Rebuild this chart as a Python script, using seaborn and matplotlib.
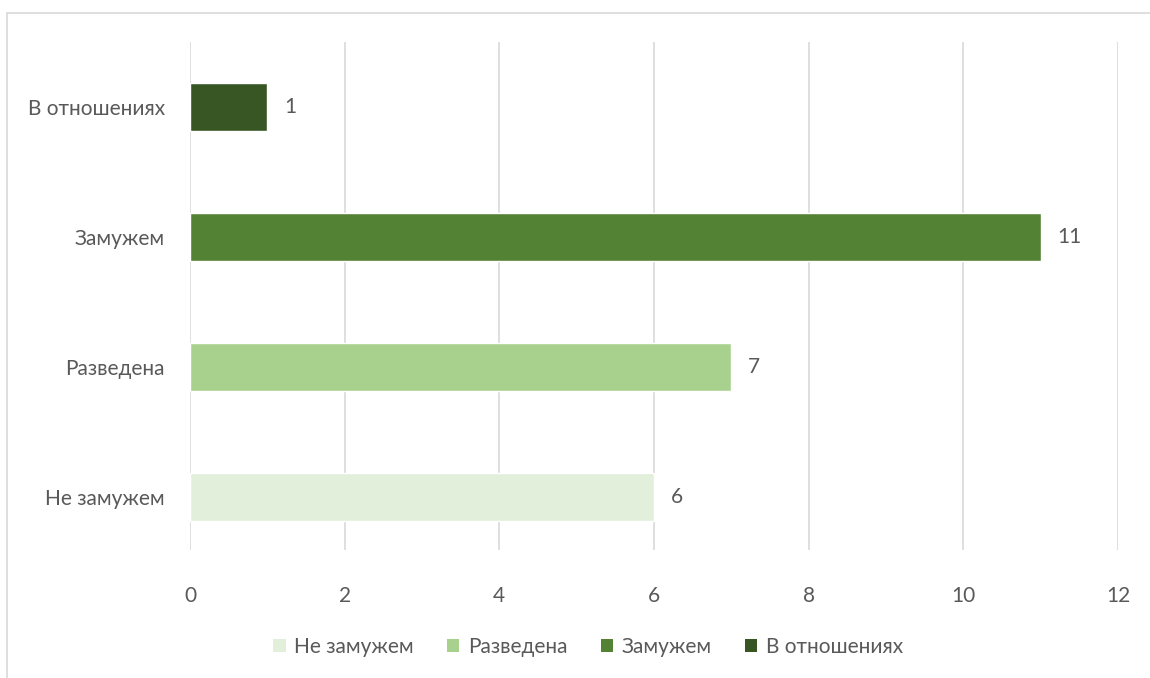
import matplotlib
matplotlib.use('Agg')
import matplotlib.pyplot as plt
import seaborn as sns
import pandas as pd
from matplotlib.patches import Patch
from matplotlib.lines import Line2D

categories = ['В отношениях', 'Замужем', 'Разведена', 'Не замужем']
values = [1, 11, 7, 6]
colors = ['#375623', '#548235', '#A9D18E', '#E2EFDA']
x_ticks = [0, 2, 4, 6, 8, 10, 12]

sns.set_theme(style='white')
plt.rcParams['font.family'] = ['Lato', 'DejaVu Sans']
text_color = '#595959'
fs = 15

df = pd.DataFrame({'status': categories, 'count': values})

fig = plt.figure(figsize=(11.5, 6.78), dpi=100)
ax = fig.add_axes([190 / 1150, 1 - 550 / 678, (1118 - 190) / 1150, (550 - 42) / 678])

sns.barplot(data=df, y='status', x='count', hue='status', order=categories,
            hue_order=categories, palette=colors, dodge=False, width=0.37,
            legend=False, ax=ax, saturation=1)

ax.set_xlim(0, 12)
ax.set_ylim(3.408, -0.5)
ax.set_xticks(x_ticks)
ax.grid(axis='x', color='#D9D9D9', linewidth=1.2)
ax.set_axisbelow(True)
for s in ax.spines.values():
    s.set_visible(False)
ax.tick_params(axis='both', length=0, labelsize=fs, labelcolor=text_color)
ax.tick_params(axis='x', pad=26)
ax.tick_params(axis='y', pad=18)
ax.set_xlabel('')
ax.set_ylabel('')

for i, v in enumerate(values):
    ax.text(v + 0.22, i, str(v), va='center', ha='left', fontsize=fs, color=text_color)

handles = [Patch(facecolor=c, edgecolor='none') for c in colors[::-1]]
fig.legend(handles, categories[::-1], loc='center', bbox_to_anchor=(588 / 1150, 1 - 647 / 678),
           ncol=4, frameon=False, fontsize=fs, labelcolor=text_color,
           handlelength=0.6, handleheight=0.6, handletextpad=0.4, columnspacing=1.6)

# outer chart border (partly visible)
fig.add_artist(Line2D([7 / 1150, 1], [1 - 13 / 678, 1 - 13 / 678], color='#D9D9D9', linewidth=1.2))
fig.add_artist(Line2D([7 / 1150, 7 / 1150], [0, 1 - 13 / 678], color='#D9D9D9', linewidth=1.2))

fig.savefig('out.png', dpi=100, facecolor='white')
